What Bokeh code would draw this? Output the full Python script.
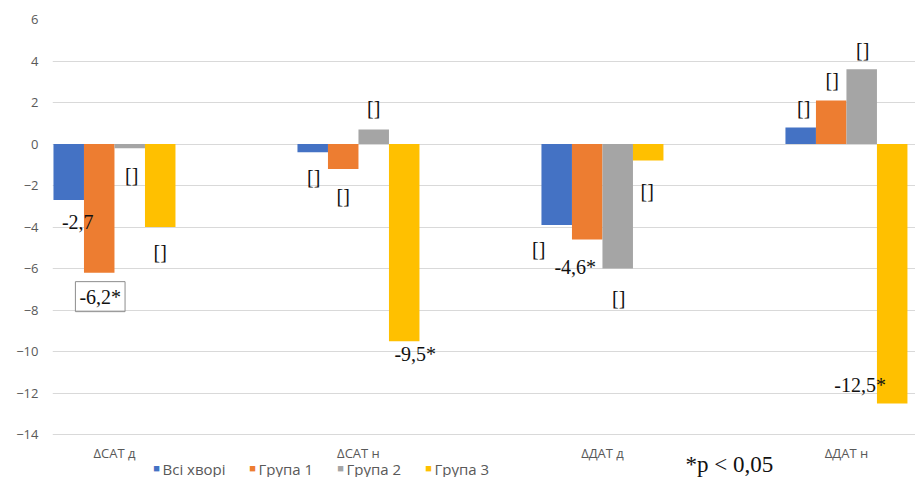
from bokeh.plotting import figure
from bokeh.models import ColumnDataSource, FixedTicker, Range1d
from bokeh.core.properties import value
from bokeh.embed import file_html
from bokeh.resources import INLINE

categories = ["ΔСАТ д", "ΔСАТ н", "ΔДАТ д", "ΔДАТ н"]
series = ["Всі хворі", "Група 1", "Група 2", "Група 3"]
colors = ["#4472C4", "#ED7D31", "#A5A5A5", "#FFC000"]

vals_all = [-2.7, -0.4, -3.9, 0.8]
vals_g1 = [-6.2, -1.2, -4.6, 2.1]
vals_g2 = [-0.2, 0.7, -6.0, 3.6]
vals_g3 = [-4.0, -9.5, -0.8, -12.5]

labels_all = ["-2,7", "[]", "[]", "[]"]
labels_g1 = ["-6,2*", "[]", "-4,6*", "[]"]
labels_g2 = ["[]", "[]", "[]", "[]"]
labels_g3 = ["[]", "-9,5*", "[]", "-12,5*"]

y_ticks = [6, 4, 2, 0, -2, -4, -6, -8, -10, -12, -14]
note_text = "*p < 0,05"

# label pixel offsets (dx, dy; dy positive = downward)
offsets_all = [(9, 22), (1, 25), (-18, 24), (3, -19)]
offsets_g1 = [(1, 24), (0, 27), (-12, 28), (1, -20)]
offsets_g2 = [(2, 27), (0, -21), (1, 29), (1, -19)]
offsets_g3 = [(0, 25), (11, 13), (-1, 30), (-32, -18)]

W, H = 915, 477
L, T = 52, 19
X0, X1 = -0.254, 3.283
Y_TOP, Y_GRID_BOTTOM, PY_GRID_BOTTOM = 6, -14, 434
px_per_x = (W - L) / (X1 - X0)
px_per_y = (PY_GRID_BOTTOM - T) / (Y_TOP - Y_GRID_BOTTOM)


def xd(px):
    return X0 + (px - L) / px_per_x


def yd(py):
    return Y_TOP - (py - T) / px_per_y


Y0 = yd(H)

p = figure(width=W, height=H, output_backend="svg", toolbar_location=None,
           x_range=Range1d(X0, X1), y_range=Range1d(Y0, Y_TOP),
           min_border_left=L, min_border_right=0, min_border_top=T,
           min_border_bottom=0)
p.outline_line_color = None
p.background_fill_color = "white"
p.border_fill_color = "white"

bar_w = 0.125
bar_offsets = [-0.1875, -0.0625, 0.0625, 0.1875]
all_vals = [vals_all, vals_g1, vals_g2, vals_g3]
all_labels = [labels_all, labels_g1, labels_g2, labels_g3]
all_offs = [offsets_all, offsets_g1, offsets_g2, offsets_g3]

# grid
p.xgrid.grid_line_color = None
p.ygrid.ticker = FixedTicker(ticks=y_ticks)
p.ygrid.grid_line_color = "#D9D9D9"

sources = []
for si, (vals, labs, offs) in enumerate(zip(all_vals, all_labels, all_offs)):
    xs = [i + bar_offsets[si] for i in range(len(categories))]
    src = ColumnDataSource(dict(
        x=xs, top=vals, bottom=[0] * len(vals), text=labs,
        dx=[o[0] for o in offs], dy=[o[1] for o in offs],
        border=["#8C8C8C" if t == "-6,2*" else None for t in labs],
    ))
    sources.append(src)
    p.vbar(x="x", top="top", bottom="bottom", width=bar_w, color=colors[si],
           line_color=None, source=src)

for src in sources:
    p.text(x="x", y="top", text="text", x_offset="dx", y_offset="dy",
           text_align="center", text_baseline="middle",
           text_font=value("Liberation Serif"), text_font_size="20px",
           text_color="#111111", border_line_color="border",
           padding=4, source=src)

# category labels (drawn as text below the grid)
p.text(x=list(range(len(categories))), y=[yd(452)] * len(categories),
       text=categories, text_align="center", text_baseline="middle",
       text_font=value("Open Sans"), text_font_size="13px", text_color="#595959")

# axes
p.yaxis.ticker = FixedTicker(ticks=y_ticks)
p.yaxis.axis_line_color = None
p.yaxis.major_tick_line_color = None
p.yaxis.minor_tick_line_color = None
p.yaxis.major_label_text_color = "#595959"
p.yaxis.major_label_text_font = "Open Sans"
p.yaxis.major_label_text_font_size = "13px"
p.yaxis.major_label_standoff = 8
p.xaxis.visible = False

# legend (manual)
legend_sq_px = [156, 252, 340, 428]
p.text(x=[xd(v) for v in legend_sq_px], y=[yd(467)] * 4, text=["■"] * 4,
       text_color=colors, text_font_size="11px", text_baseline="middle",
       text_align="center")
p.text(x=[xd(v + 6) for v in legend_sq_px], y=[yd(468)] * 4, text=series,
       text_color="#595959", text_font=value("Open Sans"), text_font_size="15px",
       text_baseline="middle", text_align="left")

p.text(x=[xd(685)], y=[yd(464)], text=[note_text], text_color="#111111",
       text_font=value("Liberation Serif"), text_font_size="23px",
       text_baseline="middle", text_align="left")

open("out.html", "w").write(file_html(p, INLINE))
